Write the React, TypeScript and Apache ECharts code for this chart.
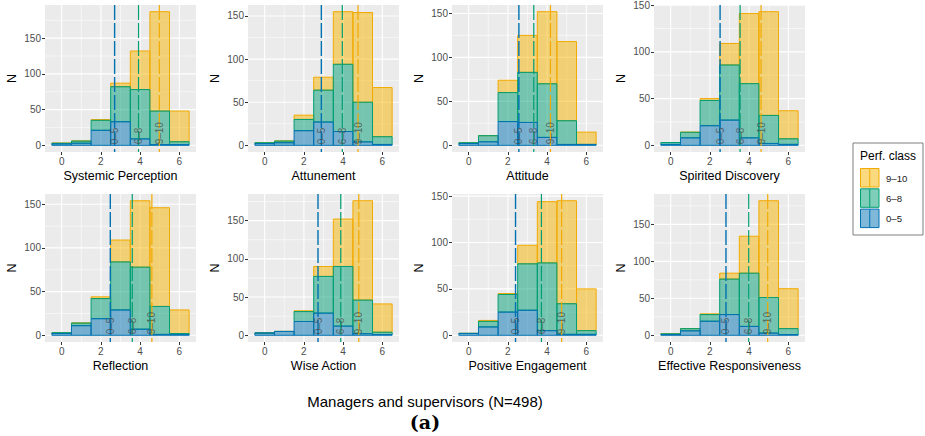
import React, { useEffect, useRef } from "react";
import * as echarts from "echarts";

// ---------------- data ----------------
const panelNames = [
  "Systemic Perception",
  "Attunement",
  "Attitude",
  "Spirited Discovery",
  "Reflection",
  "Wise Action",
  "Positive Engagement",
  "Effective Responsiveness",
];
const binCenters = [0, 1, 2, 3, 4, 5, 6];
const classLabels = ["0–5", "6–8", "9–10"];
const legendTitle = "Perf. class";
const captionText = "Managers and supervisors (N=498)";
const panelTag = "(a)";

// counts per bin (bins centred at 0..6), one row per panel
const count0to5 = [
  [2, 3, 21, 33, 9, 1, 1],
  [2, 3, 17, 27, 16, 4, 1],
  [2, 4, 27, 26, 9, 1, 1],
  [1, 8, 21, 27, 8, 2, 1],
  [2, 11, 19, 29, 7, 1, 1],
  [3, 5, 18, 29, 12, 2, 1],
  [2, 9, 25, 27, 5, 1, 1],
  [1, 6, 19, 28, 12, 3, 1],
];
const count6to8 = [
  [1, 3, 14, 49, 69, 47, 4],
  [1, 2, 13, 37, 78, 46, 9],
  [1, 7, 33, 57, 61, 27, 0],
  [2, 6, 27, 59, 58, 30, 6],
  [1, 3, 23, 55, 71, 32, 1],
  [0, 0, 13, 48, 78, 44, 3],
  [0, 6, 19, 50, 73, 33, 4],
  [1, 3, 9, 48, 72, 48, 8],
];
const count9to10 = [
  [0, 0, 1, 5, 54, 139, 43],
  [0, 0, 5, 15, 61, 104, 57],
  [0, 0, 14, 42, 82, 90, 14],
  [0, 0, 2, 23, 75, 111, 30],
  [0, 0, 2, 25, 76, 113, 27],
  [0, 0, 1, 13, 62, 130, 37],
  [0, 1, 1, 20, 66, 111, 45],
  [0, 0, 1, 8, 50, 131, 54],
];
// class means (vertical dashed lines)
const mean0to5 = [2.7, 2.89, 2.56, 2.52, 2.48, 2.72, 2.39, 2.82];
const mean6to8 = [3.92, 3.96, 3.32, 3.54, 3.6, 3.88, 3.71, 3.98];
const mean9to10 = [4.98, 4.76, 4.17, 4.61, 4.6, 4.8, 4.74, 4.95];

const xTickValues = [0, 2, 4, 6];
const xMinorValues = [1, 3, 5];
const yTickValues = [0, 50, 100, 150];
const yMinorValues = [25, 75, 125, 175];

// ---------------- styling ----------------
const FONT = '"Liberation Sans", Arial, Helvetica, sans-serif';
const lineColors = ["#0072B2", "#009E73", "#F2AA00"];
const fillColors = [
  "rgba(0,114,178,0.5)",
  "rgba(0,158,115,0.5)",
  "rgba(247,180,0,0.5)",
];
const colLeft = [45, 248, 452, 654];
const panelWidth = 151;
const rowTop = [5, 194];
const rowHeight = [147, 148];

function buildOption() {
  const grids: any[] = [];
  const xAxes: any[] = [];
  const yAxes: any[] = [];
  const series: any[] = [];
  const means = [mean0to5, mean6to8, mean9to10];

  panelNames.forEach((name, p) => {
    const r = Math.floor(p / 4);
    const c = p % 4;
    grids.push({
      left: colLeft[c],
      top: rowTop[r],
      width: panelWidth,
      height: rowHeight[r],
      show: true,
      backgroundColor: "#EBEBEB",
      borderWidth: 0,
      containLabel: false,
    });

    // stacked tops
    const lowTop = binCenters.map((_, i) => count0to5[p][i]);
    const midTop = binCenters.map((_, i) => lowTop[i] + count6to8[p][i]);
    const highTop = binCenters.map((_, i) => midTop[i] + count9to10[p][i]);
    const M = Math.max(...highTop);
    const yMin = -0.05 * M;
    const yMax = 1.05 * M;
    const yTicks = yTickValues.filter((v) => v <= yMax);

    xAxes.push({
      type: "value",
      gridIndex: p,
      min: -0.85,
      max: 6.85,
      splitLine: { show: false },
      axisLine: { show: false, onZero: false },
      axisTick: {
        show: true,
        length: 3,
        customValues: xTickValues,
        lineStyle: { color: "#333333", width: 1 },
      },
      axisLabel: {
        customValues: xTickValues,
        color: "#4D4D4D",
        fontSize: 10,
        fontFamily: FONT,
        margin: 4,
      },
      name,
      nameLocation: "middle",
      nameGap: 17,
      nameTextStyle: { color: "#000", fontSize: 12.5, fontFamily: FONT },
    });
    yAxes.push({
      type: "value",
      gridIndex: p,
      min: yMin,
      max: yMax,
      splitLine: { show: false },
      axisLine: { show: false, onZero: false },
      axisTick: {
        show: true,
        length: 3,
        customValues: yTicks,
        lineStyle: { color: "#333333", width: 1 },
      },
      axisLabel: {
        customValues: yTicks,
        color: "#4D4D4D",
        fontSize: 10,
        fontFamily: FONT,
        margin: 4,
      },
      name: "N",
      nameLocation: "middle",
      nameGap: 27,
      nameTextStyle: { color: "#000", fontSize: 12.5, fontFamily: FONT },
    });

    // grid lines
    const gl: any[] = [];
    xTickValues.forEach((v) => gl.push([v, 0, 1]));
    xMinorValues.forEach((v) => gl.push([v, 0, 0]));
    yTickValues.filter((v) => v >= yMin && v <= yMax).forEach((v) => gl.push([v, 1, 1]));
    yMinorValues.filter((v) => v >= yMin && v <= yMax).forEach((v) => gl.push([v, 1, 0]));
    series.push({
      type: "custom",
      xAxisIndex: p,
      yAxisIndex: p,
      silent: true,
      z: 1,
      encode: { x: 0, y: -1 },
      data: gl,
      renderItem: (params: any, api: any) => {
        const v = api.value(0);
        const kind = api.value(1);
        const major = api.value(2);
        const cs = params.coordSys;
        const lw = major ? 1.1 : 0.55;
        if (kind === 0) {
          const pt = api.coord([v, 0]);
          return {
            type: "line",
            shape: { x1: pt[0], y1: cs.y, x2: pt[0], y2: cs.y + cs.height },
            style: { stroke: "#FFFFFF", lineWidth: lw },
          };
        }
        const pt = api.coord([0, v]);
        return {
          type: "line",
          shape: { x1: cs.x, y1: pt[1], x2: cs.x + cs.width, y2: pt[1] },
          style: { stroke: "#FFFFFF", lineWidth: lw },
        };
      },
    });

    // bars: draw 9-10 first, then 6-8, then 0-5
    const bottoms = [binCenters.map(() => 0), lowTop, midTop];
    const tops = [lowTop, midTop, highTop];
    [2, 1, 0].forEach((k) => {
      series.push({
        type: "custom",
        name: classLabels[k],
        xAxisIndex: p,
        yAxisIndex: p,
        silent: true,
        z: 2,
        encode: { x: 0, y: [1, 2] },
        data: binCenters.map((x, i) => [x, bottoms[k][i], tops[k][i]]),
        renderItem: (params: any, api: any) => {
          const x = api.value(0);
          const y0 = api.value(1);
          const y1 = api.value(2);
          const a = api.coord([x - 0.5, y1]);
          const b = api.coord([x + 0.5, y0]);
          return {
            type: "rect",
            shape: { x: a[0], y: a[1], width: b[0] - a[0], height: b[1] - a[1] },
            style: { fill: fillColors[k], stroke: lineColors[k], lineWidth: 1 },
          };
        },
      });
    });

    // mean lines with labels
    [0, 1, 2].forEach((k) => {
      series.push({
        type: "custom",
        xAxisIndex: p,
        yAxisIndex: p,
        silent: true,
        z: 3,
        encode: { x: 0, y: 1 },
        data: [[means[k][p], 0]],
        renderItem: (params: any, api: any) => {
          const m = api.value(0);
          const cs = params.coordSys;
          const pt = api.coord([m, 0]);
          return {
            type: "group",
            children: [
              {
                type: "line",
                shape: { x1: pt[0], y1: cs.y, x2: pt[0], y2: cs.y + cs.height },
                style: { stroke: lineColors[k], lineWidth: k === 0 ? 1.4 : 1.2, lineDash: [15, 3] },
              },
              {
                type: "text",
                x: pt[0],
                y: pt[1] - 1,
                rotation: Math.PI / 2,
                style: {
                  text: classLabels[k],
                  x: 0,
                  y: 0,
                  fill: "rgba(70,70,70,0.75)",
                  fontSize: 10,
                  fontFamily: FONT,
                  align: "left",
                  verticalAlign: "middle",
                },
              },
            ],
          };
        },
      });
    });
  });

  // legend (drawn as graphics), order 9-10, 6-8, 0-5
  const legendChildren: any[] = [
    {
      type: "rect",
      shape: { x: 853, y: 143, width: 70, height: 92 },
      style: { fill: "#FFFFFF", stroke: "#7F7F7F", lineWidth: 1 },
    },
    {
      type: "text",
      x: 860,
      y: 156,
      style: {
        text: legendTitle,
        fill: "#000",
        fontSize: 12,
        fontFamily: FONT,
        align: "left",
        verticalAlign: "middle",
      },
    },
  ];
  [2, 1, 0].forEach((k, i) => {
    const y = 168.5 + i * 20.3;
    legendChildren.push({
      type: "rect",
      shape: { x: 860.5, y, width: 18.5, height: 18.5 },
      style: { fill: fillColors[k], stroke: lineColors[k], lineWidth: 1 },
    });
    legendChildren.push({
      type: "line",
      shape: { x1: 869.75, y1: y, x2: 869.75, y2: y + 18.5 },
      style: { stroke: lineColors[k], lineWidth: 1 },
    });
    legendChildren.push({
      type: "text",
      x: 886,
      y: y + 9.5,
      style: {
        text: classLabels[k],
        fill: "#1A1A1A",
        fontSize: 9.6,
        fontFamily: FONT,
        align: "left",
        verticalAlign: "middle",
      },
    });
  });

  const graphic: any[] = [
    { type: "group", children: legendChildren, silent: true },
    {
      type: "text",
      x: 425,
      y: 401,
      silent: true,
      style: {
        text: captionText,
        fill: "#000",
        fontSize: 15,
        fontFamily: FONT,
        align: "center",
        verticalAlign: "middle",
      },
    },
    {
      type: "text",
      x: 425,
      y: 422,
      silent: true,
      style: {
        text: panelTag,
        fill: "#000",
        fontSize: 19,
        fontWeight: "bold",
        fontFamily: '"DejaVu Serif", "Liberation Serif", serif',
        align: "center",
        verticalAlign: "middle",
      },
    },
  ];

  return {
    animation: false,
    backgroundColor: "#FFFFFF",
    grid: grids,
    xAxis: xAxes,
    yAxis: yAxes,
    series,
    graphic,
  };
}

export default function App() {
  const ref = useRef<HTMLDivElement>(null);
  useEffect(() => {
    if (!ref.current) return;
    const chart = echarts.init(ref.current, undefined, { renderer: "svg" });
    chart.setOption(buildOption() as any);
    return () => chart.dispose();
  }, []);
  return (
    <div
      ref={ref}
      style={{ position: "fixed", left: 0, top: 0, width: 925, height: 436, background: "#fff" }}
    />
  );
}
